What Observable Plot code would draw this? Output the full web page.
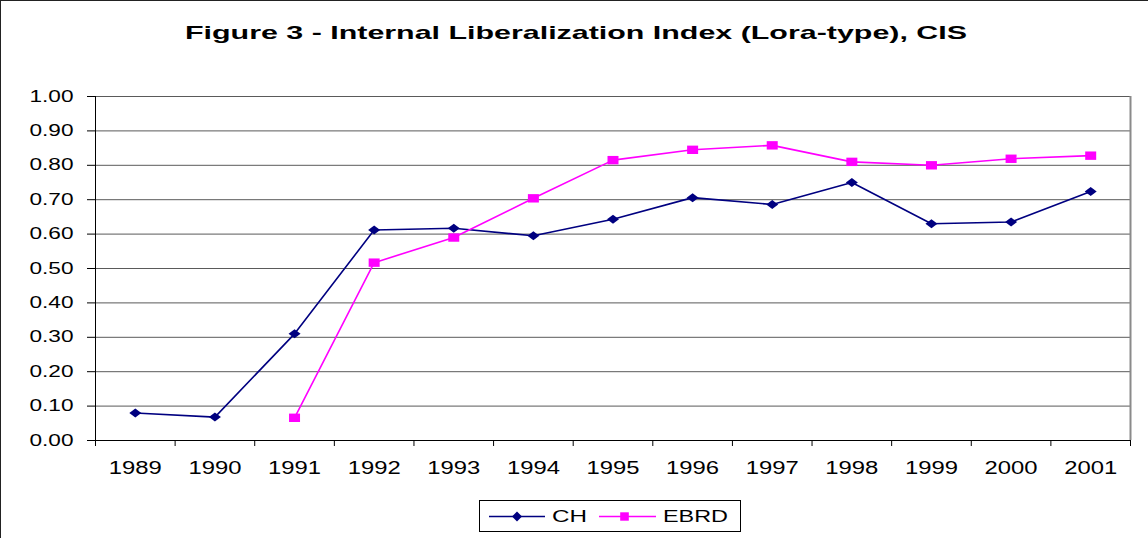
<!DOCTYPE html>
<html>
<head>
<meta charset="utf-8">
<script src="https://cdn.jsdelivr.net/npm/d3@7"></script>
<script src="https://cdn.jsdelivr.net/npm/@observablehq/plot@0.6"></script>
<style>
  html, body { margin: 0; padding: 0; background: #fff; }
  #page { position: relative; width: 1148px; height: 538px; overflow: hidden; background: #fff;
          font-family: "Liberation Sans", Arial, sans-serif; color: #000; }
  .edge { position: absolute; background: #222; }
  #title { position: absolute; left: 0; top: 0; }
  #chart { position: absolute; left: 0; top: 60px; }
  #legend { position: absolute; left: 0; top: 490px; }
</style>
</head>
<body>
<div id="page">
  <div class="edge" style="left:0;top:0;width:1148px;height:1px;"></div>
  <div class="edge" style="left:0;top:0;width:1px;height:538px;"></div>
  <div id="title"></div>
  <div id="chart"></div>
  <div id="legend"></div>
</div>
<script>
// ---- data ----
const titleText = "Figure 3 - Internal Liberalization Index (Lora-type), CIS";
const years = [1989, 1990, 1991, 1992, 1993, 1994, 1995, 1996, 1997, 1998, 1999, 2000, 2001];
const chValues   = [0.080, 0.068, 0.310, 0.612, 0.617, 0.595, 0.643, 0.706, 0.686, 0.750, 0.630, 0.635, 0.724];
const ebrdValues = [null,  null,  0.066, 0.517, 0.590, 0.704, 0.815, 0.845, 0.858, 0.810, 0.800, 0.819, 0.828];
const seriesNames = ["CH", "EBRD"];
const yTicks = [0, 0.1, 0.2, 0.3, 0.4, 0.5, 0.6, 0.7, 0.8, 0.9, 1.0];

const chRows = years.map((year, i) => ({year, series: seriesNames[0], value: chValues[i]})).filter(d => d.value != null);
const ebrdRows = years.map((year, i) => ({year, series: seriesNames[1], value: ebrdValues[i]})).filter(d => d.value != null);
const boundaries = years.map(y => y - 0.5).concat([years[years.length - 1] + 0.5]);

const navy = "#000080", magenta = "#FF00FF";
const diamondSym = { draw(ctx) { ctx.moveTo(0, -4.5); ctx.lineTo(6, 0); ctx.lineTo(0, 4.5); ctx.lineTo(-6, 0); ctx.closePath(); } };
const rectSym = { draw(ctx) { ctx.moveTo(-5.5, -4.2); ctx.lineTo(5.5, -4.2); ctx.lineTo(5.5, 4.2); ctx.lineTo(-5.5, 4.2); ctx.closePath(); } };

// ---- title ----
const tsvg = d3.select("#title").append("svg").attr("width", 1148).attr("height", 60);
tsvg.append("text").attr("x", 576).attr("y", 39).attr("text-anchor", "middle")
  .attr("font-family", "Liberation Sans, Arial, sans-serif").attr("font-weight", "bold").attr("font-size", 19)
  .attr("textLength", 782).attr("lengthAdjust", "spacingAndGlyphs").text(titleText);

// ---- chart ----
const chart = Plot.plot({
  width: 1148,
  height: 430,
  marginLeft: 95,
  marginRight: 18,
  marginTop: 36,
  marginBottom: 50,
  style: { fontFamily: "Liberation Sans, Arial, sans-serif", color: "#000", background: "transparent" },
  x: { type: "linear", domain: [boundaries[0], boundaries[boundaries.length - 1]], axis: null },
  y: { domain: [0, 1], axis: null },
  marks: [
    Plot.gridY(yTicks, { stroke: "#5a5a5a", strokeOpacity: 1, strokeWidth: 1 }),
    Plot.ruleX([boundaries[boundaries.length - 1]], { stroke: "#8a8a8a", strokeWidth: 2 }),
    Plot.ruleX([boundaries[0]], { stroke: "#000", strokeWidth: 1 }),
    Plot.ruleY([0], { stroke: "#000", strokeWidth: 1 }),
    Plot.axisY(yTicks, { anchor: "left", label: null, tickSize: 8, tickPadding: 14, tickFormat: d3.format(".2f"), fontSize: 16, stroke: "#000" }),
    Plot.axisX(boundaries, { anchor: "bottom", label: null, tickSize: 6, tickFormat: () => "", stroke: "#000" }),
    Plot.axisX(years, { anchor: "bottom", label: null, tickSize: 0, tickPadding: 21, tickFormat: d => String(d), fontSize: 18 }),
    Plot.line(chRows, { x: "year", y: "value", stroke: navy, strokeWidth: 1.6 }),
    Plot.line(ebrdRows, { x: "year", y: "value", stroke: magenta, strokeWidth: 1.6 }),
    Plot.dot(chRows, { x: "year", y: "value", symbol: diamondSym, fill: navy, r: 5 }),
    Plot.dot(ebrdRows, { x: "year", y: "value", symbol: rectSym, fill: magenta, r: 5 })
  ]
});
document.getElementById("chart").appendChild(chart);
// stretch axis labels like the reference
d3.select(chart).selectAll("g[aria-label='y-axis tick label'] text").attr("textLength", 44).attr("lengthAdjust", "spacingAndGlyphs");
d3.select(chart).selectAll("g[aria-label='x-axis tick label'] text").each(function () {
  if (/^\d{4}$/.test(this.textContent.trim())) d3.select(this).attr("textLength", 53).attr("lengthAdjust", "spacingAndGlyphs");
});

// ---- legend ----
const lsvg = d3.select("#legend").append("svg").attr("width", 1148).attr("height", 48);
const ly = 26.5;
lsvg.append("rect").attr("x", 479.5).attr("y", 10.5).attr("width", 261).attr("height", 31)
  .attr("fill", "#fff").attr("stroke", "#000").attr("stroke-width", 1);
const items = [
  { name: seriesNames[0], color: navy, diamond: true, x0: 489, x1: 545, tx: 552, tw: 35 },
  { name: seriesNames[1], color: magenta, diamond: false, x0: 599, x1: 656, tx: 663, tw: 65 }
];
items.forEach(it => {
  lsvg.append("line").attr("x1", it.x0).attr("x2", it.x1).attr("y1", ly).attr("y2", ly)
    .attr("stroke", it.color).attr("stroke-width", 1.6);
  const cx = (it.x0 + it.x1) / 2;
  if (it.diamond) {
    lsvg.append("path").attr("d", `M${cx},${ly - 5}L${cx + 5},${ly}L${cx},${ly + 5}L${cx - 5},${ly}Z`).attr("fill", it.color);
  } else {
    lsvg.append("rect").attr("x", cx - 4.3 - 3).attr("y", ly - 4.2).attr("width", 8.6).attr("height", 8.4).attr("fill", it.color);
  }
  lsvg.append("text").attr("x", it.tx).attr("y", ly + 5.8).attr("font-family", "Liberation Sans, Arial, sans-serif")
    .attr("font-size", 16).attr("textLength", it.tw).attr("lengthAdjust", "spacingAndGlyphs").text(it.name);
});
</script>
</body>
</html>
